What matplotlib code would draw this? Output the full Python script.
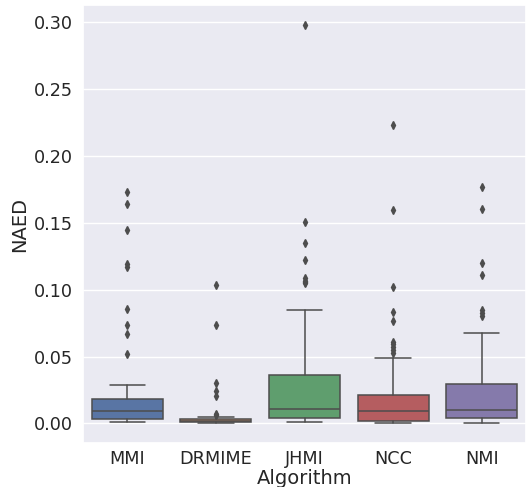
import matplotlib
matplotlib.use("Agg")
import matplotlib.pyplot as plt
import seaborn as sns
import numpy as np

categories = ["MMI", "DRMIME", "JHMI", "NCC", "NMI"]
medians = [0.009, 0.002, 0.0107, 0.009, 0.010]
q1 = [0.003, 0.001, 0.004, 0.002, 0.004]
q3 = [0.018, 0.0035, 0.0365, 0.021, 0.0293]
whislo = [0.001, 0.0003, 0.001, 0.0003, 0.0005]
whishi = [0.029, 0.005, 0.0848, 0.0493, 0.0673]
fliers_mmi = [0.173, 0.164, 0.145, 0.1195, 0.117, 0.0858, 0.0735, 0.0668, 0.0518]
fliers_drmime = [0.1035, 0.0735, 0.0305, 0.0242, 0.0203, 0.0073, 0.0062]
fliers_jhmi = [0.298, 0.1505, 0.1348, 0.122, 0.1085, 0.1068, 0.1055, 0.1048]
fliers_ncc = [0.2235, 0.1595, 0.1018, 0.0833, 0.0765, 0.061, 0.0593, 0.057, 0.0548, 0.0525]
fliers_nmi = [0.177, 0.1603, 0.12, 0.111, 0.0848, 0.0823, 0.0803]
fliers = [fliers_mmi, fliers_drmime, fliers_jhmi, fliers_ncc, fliers_nmi]

sns.set_theme(style="darkgrid")
plt.rcParams["xtick.labelsize"] = 12.7
plt.rcParams["ytick.labelsize"] = 12.7
plt.rcParams["axes.labelsize"] = 14

fig = plt.figure(figsize=(5.26, 4.87), dpi=100)
ax = fig.add_axes([83/526, 1 - 443/487, 1 - 83/526, (443 - 5)/487])

palette = [sns.desaturate(c, 0.75) for c in sns.color_palette("deep", 5)]
gray = (0.3, 0.3, 0.3)
lw = 1.1

stats = []
for i, c in enumerate(categories):
    stats.append(dict(med=medians[i], q1=q1[i], q3=q3[i], whislo=whislo[i],
                      whishi=whishi[i], fliers=fliers[i], label=c))

bp = ax.bxp(stats, positions=np.arange(len(categories)), widths=0.8,
            patch_artist=True, showfliers=True,
            boxprops=dict(edgecolor=gray, linewidth=lw),
            medianprops=dict(color=gray, linewidth=lw),
            whiskerprops=dict(color=gray, linewidth=lw),
            capprops=dict(color=gray, linewidth=lw),
            flierprops=dict(marker="d", markerfacecolor=gray, markeredgecolor=gray,
                            markersize=3.8, linestyle="none"))
for patch, col in zip(bp["boxes"], palette):
    patch.set_facecolor(col)

ax.set_xlim(-0.5, len(categories) - 0.5)
ax.set_xticks(np.arange(len(categories)))
ax.set_xticklabels(categories)
ax.set_xlabel("Algorithm", labelpad=1)
ax.set_ylabel("NAED", labelpad=4)
ax.set_yticks([0.0, 0.05, 0.10, 0.15, 0.20, 0.25, 0.30])
ax.set_yticklabels(["0.00", "0.05", "0.10", "0.15", "0.20", "0.25", "0.30"])
ax.tick_params(axis="x", length=0, pad=5)
ax.tick_params(axis="y", length=0, pad=7)
ax.grid(axis="x", visible=False)
ax.margins(y=0.05)
ax.autoscale(axis="y")

fig.savefig("out.png", dpi=100)
